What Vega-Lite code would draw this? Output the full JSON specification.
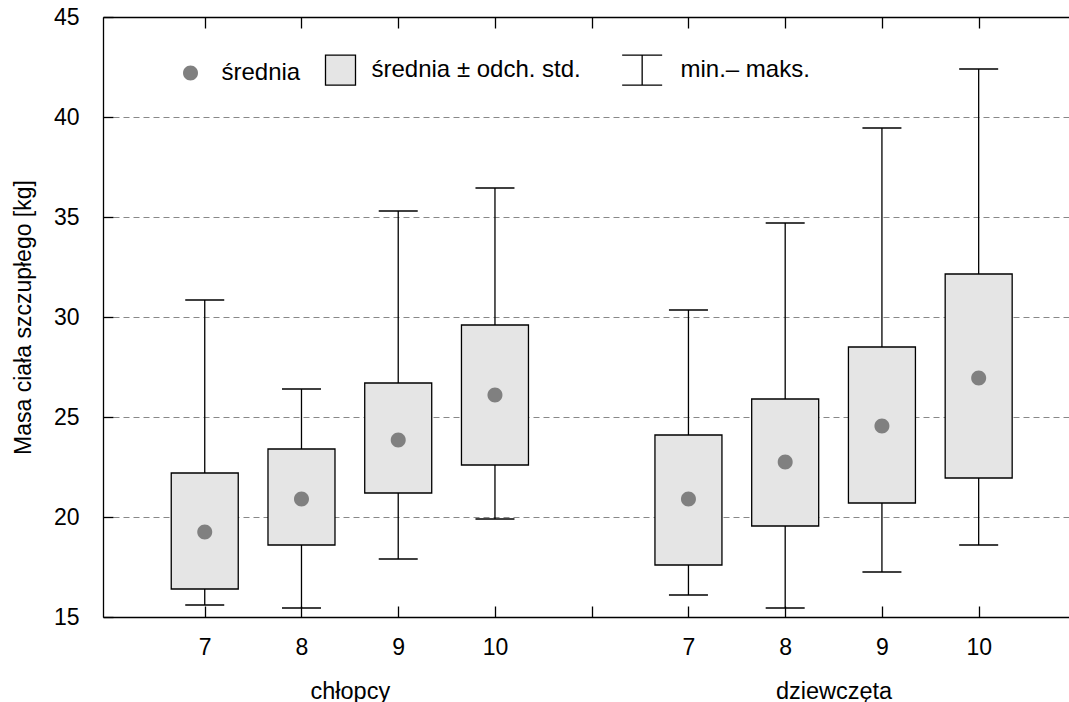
{
  "$schema": "https://vega.github.io/schema/vega-lite/v6.json",
  "width": 966,
  "height": 600,
  "autosize": {"type": "none"},
  "padding": {"left": 103, "top": 17, "right": 0, "bottom": 85},
  "background": "white",
  "config": {
    "font": "Liberation Sans",
    "view": {"stroke": null},
    "axis": {
      "labelFont": "Liberation Sans",
      "labelFontSize": 23,
      "labelColor": "black",
      "titleFont": "Liberation Sans",
      "titleFontSize": 23,
      "titleFontWeight": "normal",
      "titleColor": "black",
      "domainColor": "black",
      "domainWidth": 1.3,
      "tickColor": "black",
      "tickWidth": 1.3
    },
    "legend": {
      "labelFont": "Liberation Sans",
      "labelFontSize": 24,
      "labelColor": "black"
    }
  },
  "data": {
    "values": [
      {"grupa": "chłopcy", "wiek": 7, "x": 1, "min": 15.6, "sd_lo": 16.4, "mean": 19.25, "sd_hi": 22.2, "max": 30.85},
      {"grupa": "chłopcy", "wiek": 8, "x": 2, "min": 15.45, "sd_lo": 18.6, "mean": 20.9, "sd_hi": 23.4, "max": 26.4},
      {"grupa": "chłopcy", "wiek": 9, "x": 3, "min": 17.9, "sd_lo": 21.2, "mean": 23.85, "sd_hi": 26.7, "max": 35.3},
      {"grupa": "chłopcy", "wiek": 10, "x": 4, "min": 19.9, "sd_lo": 22.6, "mean": 26.1, "sd_hi": 29.6, "max": 36.45},
      {"grupa": "dziewczęta", "wiek": 7, "x": 6, "min": 16.1, "sd_lo": 17.6, "mean": 20.9, "sd_hi": 24.1, "max": 30.35},
      {"grupa": "dziewczęta", "wiek": 8, "x": 7, "min": 15.45, "sd_lo": 19.55, "mean": 22.75, "sd_hi": 25.9, "max": 34.7},
      {"grupa": "dziewczęta", "wiek": 9, "x": 8, "min": 17.25, "sd_lo": 20.7, "mean": 24.55, "sd_hi": 28.5, "max": 39.45},
      {"grupa": "dziewczęta", "wiek": 10, "x": 9, "min": 18.6, "sd_lo": 21.95, "mean": 26.95, "sd_hi": 32.15, "max": 42.4}
    ]
  },
  "resolve": {"axis": {"x": "independent"}},
  "layer": [
    {
      "mark": {"type": "rule", "color": "black", "strokeWidth": 1.3},
      "encoding": {
        "x": {
          "field": "x", "type": "quantitative",
          "scale": {"domain": [0, 9.882], "nice": false, "zero": false},
          "axis": {
            "orient": "bottom",
            "title": null,
            "values": [1, 2, 3, 4, 5, 6, 7, 8, 9],
            "labelExpr": "datum.value === 5 ? '' : (datum.value < 5 ? toString(datum.value + 6) : toString(datum.value + 1))",
            "ticks": true,
            "tickSize": -11,
            "labelPadding": 30,
            "grid": false,
            "domain": true,
            "labelFlush": false,
            "labelOverlap": false
          }
        },
        "y": {
          "field": "min", "type": "quantitative",
          "title": "Masa ciała szczupłego [kg]",
          "scale": {"domain": [15, 45], "nice": false, "zero": false},
          "axis": {
            "values": [15, 20, 25, 30, 35, 40, 45],
            "ticks": true,
            "tickSize": -10,
            "labelPadding": 34,
            "titlePadding": 18,
            "grid": true,
            "gridDash": [6, 4],
            "gridColor": "#888888",
            "gridWidth": 1,
            "domain": true,
            "labelFlush": false,
            "labelOverlap": false
          }
        },
        "y2": {"field": "max"}
      }
    },
    {
      "mark": {"type": "bar", "width": 67, "fill": "#e5e5e5", "stroke": "black", "strokeWidth": 1.3},
      "encoding": {
        "x": {
          "field": "x", "type": "quantitative",
          "axis": {
            "orient": "bottom",
            "title": null,
            "values": [2.5, 7.5],
            "labelExpr": "datum.value < 5 ? 'chłopcy' : 'dziewczęta'",
            "labelFontSize": 23.5,
            "ticks": false,
            "domain": false,
            "grid": false,
            "labelPadding": 62,
            "labelFlush": false,
            "labelOverlap": false
          }
        },
        "y": {"field": "sd_lo", "type": "quantitative", "title": "Masa ciała szczupłego [kg]"},
        "y2": {"field": "sd_hi"}
      }
    },
    {
      "mark": {"type": "tick", "orient": "horizontal", "size": 39, "thickness": 1.3, "color": "black", "opacity": 1},
      "encoding": {
        "x": {
          "field": "x", "type": "quantitative",
          "axis": {
            "orient": "top",
            "title": null,
            "values": [1, 2, 3, 4, 5, 6, 7, 8, 9],
            "labels": false,
            "ticks": true,
            "tickSize": -11,
            "grid": false,
            "domain": true
          }
        },
        "y": {"field": "min", "type": "quantitative", "title": "Masa ciała szczupłego [kg]"}
      }
    },
    {
      "mark": {"type": "tick", "orient": "horizontal", "size": 39, "thickness": 1.3, "color": "black", "opacity": 1},
      "encoding": {
        "x": {"field": "x", "type": "quantitative", "axis": null},
        "y": {"field": "max", "type": "quantitative", "title": "Masa ciała szczupłego [kg]"}
      }
    },
    {
      "mark": {"type": "point", "filled": true, "size": 1600, "opacity": 1, "strokeWidth": 1.3},
      "encoding": {
        "x": {"field": "x", "type": "quantitative", "axis": null},
        "y": {"field": "mean", "type": "quantitative", "title": "Masa ciała szczupłego [kg]"},
        "color": {
          "datum": "średnia",
          "type": "nominal",
          "scale": {
            "domain": ["średnia", "średnia ± odch. std.", "min.– maks."],
            "range": ["#808080", "#e5e5e5", "#ffffff"]
          },
          "legend": {
            "title": null,
            "orient": "none",
            "legendX": 66.5,
            "legendY": 32,
            "direction": "horizontal",
            "padding": 0,
            "symbolSize": 1600,
            "symbolStrokeWidth": 1.3,
            "labelOffset": 10,
            "columnPadding": 19,
            "labelLimit": 400
          }
        },
        "shape": {
          "datum": "średnia",
          "type": "nominal",
          "scale": {
            "domain": ["średnia", "średnia ± odch. std.", "min.– maks."],
            "range": [
              "M-0.375,0A0.375,0.375,0,1,1,0.375,0A0.375,0.375,0,1,1,-0.375,0Z",
              "M-0.75,-0.75H0.75V0.75H-0.75Z",
              "M-2.29,0M-1.367,-0.75H0.633M-0.367,-0.75V0.75M-1.367,0.75H0.633"
            ]
          },
          "legend": {
            "title": null,
            "orient": "none",
            "legendX": 66.5,
            "legendY": 32,
            "direction": "horizontal",
            "padding": 0,
            "symbolSize": 1600,
            "symbolStrokeWidth": 1.3,
            "labelOffset": 10,
            "columnPadding": 19,
            "labelLimit": 400
          }
        },
        "stroke": {
          "datum": "średnia",
          "type": "nominal",
          "scale": {
            "domain": ["średnia", "średnia ± odch. std.", "min.– maks."],
            "range": ["transparent", "#000000", "#000000"]
          },
          "legend": {
            "title": null,
            "orient": "none",
            "legendX": 66.5,
            "legendY": 32,
            "direction": "horizontal",
            "padding": 0,
            "symbolSize": 1600,
            "symbolStrokeWidth": 1.3,
            "labelOffset": 10,
            "columnPadding": 19,
            "labelLimit": 400
          }
        }
      }
    }
  ]
}
